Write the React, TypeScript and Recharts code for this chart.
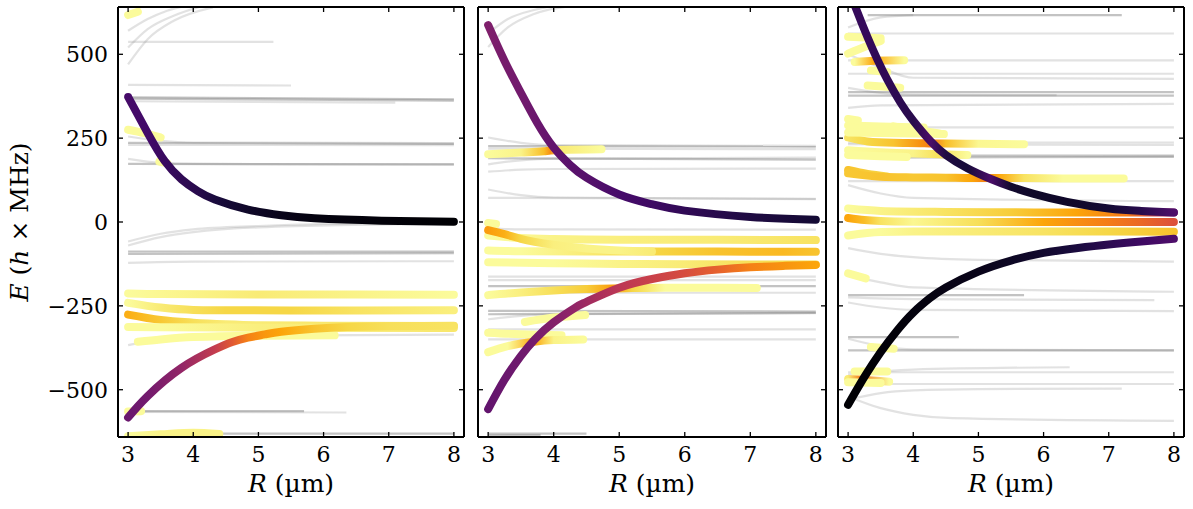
import React from 'react';
import { ComposedChart, Line, XAxis, YAxis } from 'recharts';

type GPt = [number, number]; // [R (µm), E (MHz)]
type CPt = [number, number, number]; // [R, E, colour value 0..1 (inferno)]

const R_TICKS = [3, 4, 5, 6, 7, 8];
const E_TICKS = [-500, -250, 0, 250, 500];
const R_DOMAIN: [number, number] = [2.845, 8.155];
const E_DOMAIN: [number, number] = [-641, 641];

// ---------------- Panel 1 ----------------
const p1Main: CPt[][] = [
  [[3, 373, 0.21], [3.31, 262, 0.2], [3.56, 182, 0.18], [3.82, 127, 0.16], [4.07, 92, 0.14], [4.33, 67, 0.11], [4.84, 37, 0.07], [5.35, 20, 0.04], [5.86, 11, 0.02], [6.89, 4, 0.01], [8, 1, 0]],
  [[3, -583, 0.3], [3.3, -519, 0.32], [3.82, -435, 0.4], [4.33, -380, 0.52], [4.6, -358, 0.62], [4.84, -345, 0.72], [5.1, -335, 0.77], [5.35, -327, 0.8], [5.86, -318, 0.86], [6.37, -313, 0.9], [7, -311, 0.92], [8, -309, 0.93]],
];
const p1Yellow: CPt[][] = [
  [[3, -213, 0.99], [3.5, -215, 0.98], [5, -216, 0.95], [6.5, -216, 0.97], [8, -217, 0.99]],
  [[3, -241, 0.99], [3.5, -255, 0.95], [4, -262, 0.92], [4.5, -263, 0.9], [5.5, -264, 0.9], [6.5, -264, 0.93], [8, -263, 0.96]],
  [[3, -276, 0.82], [3.5, -292, 0.87], [4, -300, 0.92], [4.5, -305, 0.95], [5, -308, 0.95], [6, -309, 0.94], [8, -310, 0.93]],
  [[3, -313, 0.99], [3.5, -314, 0.99], [5, -315, 0.96], [8, -316, 0.94]],
  [[3.15, -357, 0.99], [3.5, -350, 0.99], [4, -343, 0.99], [5, -339, 0.99], [6.17, -338, 0.99]],
  [[3, 617, 0.99], [3.15, 627, 0.99]],
  [[3, 275, 0.99], [3.25, 265, 0.99], [3.5, 252, 0.99]],
  [[3.48, 180, 0.99], [3.6, 175, 0.99]],
  [[3, -565, 0.99], [3.2, -564, 0.99]],
  [[3, -639, 0.99], [3.5, -633, 0.97], [4, -628, 0.97], [4.4, -632, 0.97]],
];
const p1GrayLight: GPt[][] = [
  [[3, 470], [3.3, 545], [3.7, 600], [4.3, 640]],
  [[3, 520], [3.3, 575], [3.7, 615], [4.1, 642]],
  [[3, 570], [3.3, 605], [3.6, 630], [3.9, 645]],
  [[3, 537], [5.23, 537]],
  [[3, 409], [5.5, 407]],
  [[3, 360], [7.1, 356]],
  [[3, 255], [3.5, 242], [4, 237], [8, 235]],
  [[3, 230], [8, 229]],
  [[3, 188], [3.5, 176], [4, 173], [8, 172]],
  [[3, -58], [3.5, -35], [4, -22], [5, -12], [6, -6], [8, -2]],
  [[3, -70], [3.5, -45], [4, -30], [5, -16], [8, -5]],
  [[3, -122], [4, -118], [8, -117]],
  [[3, -367], [3.5, -350], [4, -343], [5, -339], [8, -336]],
  [[3, -566], [6.35, -568]],
];
const p1GrayDark: GPt[][] = [
  [[3, 372], [8, 366]],
  [[3, 368], [8, 362]],
  [[3, 236], [8, 233]],
  [[3, 173], [8, 172]],
  [[3, -88], [8, -88]],
  [[3, -95], [8, -93]],
  [[3, -564], [5.7, -564]],
  [[3, -631], [8, -631]],
];

// ---------------- Panel 2 ----------------
const p2Main: CPt[][] = [
  [[3, 587, 0.35], [3.25, 480, 0.33], [3.5, 385, 0.32], [3.75, 295, 0.3], [4, 222, 0.28], [4.25, 170, 0.26], [4.5, 132, 0.25], [5, 82, 0.21], [5.5, 53, 0.19], [6, 34, 0.16], [7, 15, 0.12], [8, 7, 0.09]],
  [[3, -558, 0.28], [3.25, -470, 0.3], [3.5, -399, 0.31], [3.71, -350, 0.33], [4, -299, 0.36], [4.33, -255, 0.4], [4.5, -238, 0.43], [5, -196, 0.5], [5.5, -170, 0.54], [6, -153, 0.58], [6.5, -142, 0.64], [7, -135, 0.72], [7.5, -131, 0.76], [8, -128, 0.8]],
];
const p2Yellow: CPt[][] = [
  [[3, 202, 0.99], [3.5, 207, 0.97], [3.85, 211, 0.85], [3.95, 213, 0.75], [4.1, 215, 0.95], [4.73, 217, 0.99]],
  [[3, -3, 0.99], [3.12, -6, 0.99]],
  [[3, -40, 0.99], [3.5, -48, 0.98], [4, -51, 0.97], [5, -53, 0.96], [6.5, -53, 0.95], [8, -54, 0.93]],
  [[3, -85, 0.99], [3.5, -87, 0.99], [4.5, -88, 0.95], [5.5, -88, 0.9], [6.5, -88, 0.86], [7.5, -89, 0.84], [8, -89, 0.86]],
  [[3, -24, 0.78], [3.25, -36, 0.82], [3.5, -50, 0.9], [4, -68, 0.96], [4.5, -79, 0.97], [5, -85, 0.97], [5.5, -88, 0.95]],
  [[3, -120, 0.99], [4, -123, 0.99], [5, -125, 0.97], [6, -126, 0.95], [7, -127, 0.92], [8, -127, 0.9]],
  [[3, -218, 0.99], [3.5, -210, 0.96], [4, -204, 0.92], [4.5, -200, 0.88], [4.9, -198, 0.78], [5.2, -197, 0.9], [5.7, -196, 0.99], [6.5, -196, 0.99], [7.1, -197, 0.99]],
  [[3.56, -298, 0.99], [4, -285, 0.99], [4.48, -277, 0.99]],
  [[3, -330, 0.99], [3.5, -335, 0.99], [4.12, -338, 0.99]],
  [[3, -388, 0.99], [3.3, -370, 0.99], [3.7, -357, 0.8], [4, -352, 0.97], [4.45, -350, 0.99]],
];
const p2GrayLight: GPt[][] = [
  [[3, 522], [3.3, 580], [3.7, 620], [4.3, 645]],
  [[3, 562], [3.3, 605], [3.7, 632], [4.0, 645]],
  [[3, 252], [3.5, 236], [4, 229], [8, 227]],
  [[3, 219], [8, 217]],
  [[3, 172], [3.5, 184], [4, 189], [8, 192]],
  [[3, 150], [3.5, 156], [4, 158], [8, 159]],
  [[3, 97], [3.5, 80], [4, 73], [8, 68]],
  [[3, 72], [8, 69]],
  [[3, -18], [3.5, -22], [8, -23]],
  [[3, -163], [8, -163]],
  [[3, -173], [8, -173]],
  [[3, -211], [8, -211]],
  [[3, -290], [3.5, -280], [4, -275], [8, -272]],
  [[3, -320], [8, -320]],
  [[3, -350], [8, -350]],
];
const p2GrayDark: GPt[][] = [
  [[3, 226], [8, 225]],
  [[3, 190], [8, 186]],
  [[3, -191], [8, -191]],
  [[3, -265], [8, -267]],
  [[3, -275], [8, -271]],
  [[3, -631], [4.5, -631]],
  [[3, -636], [3.8, -635]],
];

// ---------------- Panel 3 ----------------
const p3Main: CPt[][] = [
  [[3, 700, 0.17], [3.12, 637, 0.17], [3.3, 550, 0.17], [3.45, 484, 0.16], [3.6, 425, 0.16], [3.8, 357, 0.15], [4, 302, 0.14], [4.27, 240, 0.22], [4.5, 200, 0.12], [4.83, 160, 0.1], [5.19, 128, 0.22], [5.5, 105, 0.08], [5.85, 84, 0.07], [6.36, 60, 0.07], [7, 40, 0.09], [7.5, 33, 0.14], [8, 28, 0.23]],
  [[3, -545, 0.0], [3.25, -462, 0.0], [3.5, -388, 0.01], [3.75, -324, 0.01], [4, -270, 0.02], [4.25, -228, 0.02], [4.5, -195, 0.03], [5, -148, 0.04], [5.5, -115, 0.06], [6, -92, 0.08], [6.5, -78, 0.11], [7, -67, 0.15], [7.5, -58, 0.19], [8, -50, 0.23]],
];
const p3Yellow: CPt[][] = [
  [[3, 40, 0.99], [3.5, 33, 0.97], [4.5, 30, 0.93], [5.5, 29, 0.88], [6.5, 28, 0.8], [7.3, 28, 0.7], [7.8, 28, 0.5], [8, 28, 0.35]],
  [[3, 12, 0.8], [3.25, 6, 0.85], [3.5, 3, 0.93], [4, 1, 0.98], [5, 0, 0.92], [6, 0, 0.8], [6.5, 0, 0.75], [7, 0, 0.71], [7.5, 0, 0.66], [8, 0, 0.6]],
  [[3, -40, 0.99], [3.5, -30, 0.99], [4, -28, 0.97], [5, -28, 0.95], [6, -28, 0.93], [7, -28, 0.9], [8, -29, 0.86]],
  [[3, 155, 0.86], [3.3, 143, 0.88], [3.6, 136, 0.9]],
  [[3, 145, 0.87], [3.5, 135, 0.86], [4, 133, 0.87], [4.5, 132, 0.86], [4.9, 131, 0.8], [5.1, 131, 0.72], [5.3, 131, 0.8], [5.7, 131, 0.93], [6.3, 130, 0.99], [7.23, 130, 0.99]],
  [[3, 252, 0.93], [3.3, 240, 0.9], [3.7, 236, 0.86], [4.1, 235, 0.76], [4.3, 234, 0.7], [4.5, 234, 0.85], [5, 233, 0.98], [5.7, 232, 0.99]],
  [[3, 214, 0.99], [3.5, 208, 0.98], [4, 204, 0.97], [4.4, 202, 0.92], [4.83, 200, 0.99]],
  [[3, 200, 0.99], [3.5, 196, 0.99], [3.9, 194, 0.99]],
  [[3, 288, 0.99], [3.5, 285, 0.99], [4.16, 282, 0.99]],
  [[3, 307, 0.99], [3.15, 303, 0.99]],
  [[3.7, 285, 0.99], [4, 275, 0.99], [4.4, 264, 0.99]],
  [[3, 267, 0.99], [3.5, 265, 0.99], [4.47, 262, 0.99]],
  [[3, 552, 0.99], [3.5, 548, 0.99]],
  [[3, 502, 0.99], [3.25, 522, 0.99], [3.5, 540, 0.99]],
  [[3.1, 477, 0.99], [3.4, 481, 0.8], [3.86, 482, 0.99]],
  [[3.35, 452, 0.99], [3.6, 447, 0.99]],
  [[3.3, 407, 0.99], [3.8, 400, 0.99]],
  [[3, -153, 0.99], [3.27, -168, 0.99]],
  [[3.35, -373, 0.99], [3.7, -378, 0.99]],
  [[3.1, -446, 0.99], [3.6, -446, 0.99]],
  [[3, -468, 0.95], [3.2, -470, 0.7], [3.63, -476, 0.99]],
  [[3, -478, 0.99], [3.5, -480, 0.99]],
];
const p3GrayLight: GPt[][] = [
  [[3, 580], [3.5, 610], [4, 617]],
  [[3, 562], [8, 562]],
  [[3, 482], [8, 482]],
  [[3, 442], [8, 442]],
  [[3, 500], [3.5, 460], [4, 430], [8, 427]],
  [[3, 400], [3.5, 385], [4, 380], [6.2, 378]],
  [[3, 340], [3.5, 348], [8, 352]],
  [[3, 282], [8, 282]],
  [[3, 237], [8, 237]],
  [[3, 232], [8, 230]],
  [[3, 122], [8, 122]],
  [[3, 110], [3.5, 85], [4, 72], [8, 62]],
  [[3, -78], [3.5, -95], [4, -105], [5, -113], [8, -118]],
  [[3, -160], [3.5, -180], [4, -195], [8, -208]],
  [[3, -225], [4, -230], [7.7, -233]],
  [[3, -240], [3.5, -255], [4, -262], [8, -266]],
  [[3, -348], [3.5, -370], [4, -380], [8, -383]],
  [[3, -455], [4, -440], [6.4, -433]],
  [[3, -448], [8, -448]],
  [[3, -483], [8, -483]],
  [[3, -530], [3.5, -510], [4, -502], [5, -498], [7.2, -497]],
  [[3, -520], [3.5, -555], [4, -575], [4.6, -585], [8, -593]],
];
const p3GrayDark: GPt[][] = [
  [[3.3, 617], [7.2, 617]],
  [[3, 387], [8, 387]],
  [[3, 377], [8, 377]],
  [[3, 198], [8, 198]],
  [[3, 192], [8, 194]],
  [[3, -218], [5.7, -218]],
  [[3, -343], [4.7, -343]],
  [[3, -383], [8, -383]],
];

// ---------------- styling helpers ----------------
const INFERNO = ['#000004', '#160b39', '#420a68', '#6a176e', '#932667', '#bc3754', '#dd513a', '#f37819', '#fca50a', '#f6d746', '#fcffa4'];
function hexToRgb(h: string): number[] {
  return [parseInt(h.slice(1, 3), 16), parseInt(h.slice(3, 5), 16), parseInt(h.slice(5, 7), 16)];
}
function inferno(t: number): string {
  const v = Math.max(0, Math.min(1, t)) * 10;
  const i = Math.min(9, Math.floor(v));
  const f = v - i;
  const a = hexToRgb(INFERNO[i]);
  const b = hexToRgb(INFERNO[i + 1]);
  const c = a.map((x, k) => Math.round(x + (b[k] - x) * f));
  return `rgb(${c[0]},${c[1]},${c[2]})`;
}

const FONT = "'DejaVu Serif', 'Liberation Serif', serif";
const TICK_FS = 22;
const LABEL_FS = 25;
const fmt = (v: number) => (v < 0 ? '\u2212' + Math.abs(v) : String(v));

const BottomTick = (props: any) => {
  const { x, y, payload } = props;
  return (
    <g>
      <line x1={x} x2={x} y1={y} y2={y - 5} stroke="#000" strokeWidth={1.3} />
      <text x={x} y={y + 25} textAnchor="middle" fontSize={TICK_FS} fontFamily={FONT} fill="#000">
        {payload.value}
      </text>
    </g>
  );
};
const TopTick = (props: any) => {
  const { x, y } = props;
  return <line x1={x} x2={x} y1={y} y2={y + 5} stroke="#000" strokeWidth={1.3} />;
};
const makeLeftTick = (showLabel: boolean) => (props: any) => {
  const { x, y, payload } = props;
  return (
    <g>
      <line x1={x} x2={x + 5} y1={y} y2={y} stroke="#000" strokeWidth={1.3} />
      {showLabel && (
        <text x={x - 10} y={y + 7.8} textAnchor="end" fontSize={TICK_FS} fontFamily={FONT} fill="#000">
          {fmt(payload.value)}
        </text>
      )}
    </g>
  );
};
const RightTick = (props: any) => {
  const { x, y } = props;
  return <line x1={x} x2={x - 5} y1={y} y2={y} stroke="#000" strokeWidth={1.3} />;
};

const XLabel = (props: any) => {
  const vb = props.viewBox || {};
  const cx = vb.x + vb.width / 2;
  return (
    <text x={cx} y={vb.y + 55} textAnchor="middle" fontSize={LABEL_FS} fontFamily={FONT} fill="#000">
      <tspan fontStyle="italic">R</tspan> (µm)
    </text>
  );
};
const YLabel = (props: any) => {
  const vb = props.viewBox || {};
  const x = vb.x + vb.width - 90;
  const y = vb.y + vb.height / 2;
  return (
    <text x={x} y={y} transform={`rotate(-90, ${x}, ${y})`} textAnchor="middle" fontSize={LABEL_FS} fontFamily={FONT} fill="#000">
      <tspan fontStyle="italic">E</tspan> (<tspan fontStyle="italic">h</tspan> × MHz)
    </text>
  );
};

const AXIS_LINE = { stroke: '#000', strokeWidth: 2 };

type PanelProps = {
  prefix: string;
  left: number;
  right: number;
  grayLight: GPt[][];
  grayDark: GPt[][];
  yellow: CPt[][];
  main: CPt[][];
  showY: boolean;
};

function Panel({ prefix, left, right, grayLight, grayDark, yellow, main, showY }: PanelProps) {
  const colored = [...yellow.map((p) => ({ pts: p, main: false })), ...main.map((p) => ({ pts: p, main: true }))];
  const gradInfo = colored.map(({ pts }) => {
    const cs = pts.map((p) => p[2]);
    const es = pts.map((p) => p[1]);
    const varying = cs.some((c) => Math.abs(c - cs[0]) > 1e-6);
    const flat = es.every((e) => e === es[0]);
    return { grad: varying && !flat, mean: cs.reduce((a, b) => a + b, 0) / cs.length };
  });
  const grayLine = (pts: GPt[], key: string, dark: boolean) => (
    <Line
      key={key}
      data={pts.map(([R, E]) => ({ R, E }))}
      dataKey="E"
      xAxisId="b"
      yAxisId="l"
      type="monotone"
      stroke={dark ? '#7a7a7a' : '#8a8a8a'}
      strokeOpacity={dark ? 0.45 : 0.25}
      strokeWidth={2.2}
      dot={false}
      activeDot={false}
      isAnimationActive={false}
    />
  );
  // axes are 1px thick boxes (zero-size axes are not drawn), so margins are reduced by 1
  return (
    <div style={{ position: 'absolute', left: 0, top: 0 }}>
      <ComposedChart width={1193} height={509} margin={{ top: 6, right: right - 1, bottom: 71, left: left - 1 }}>
        <defs>
          {colored.map(({ pts }, i) => {
            if (!gradInfo[i].grad) return null;
            const r0 = pts[0][0];
            const r1 = pts[pts.length - 1][0];
            return (
              <linearGradient key={i} id={`${prefix}-g${i}`} x1="0" y1="0" x2="1" y2="0">
                {pts.map(([R, , c], k) => (
                  <stop key={k} offset={(R - r0) / (r1 - r0)} stopColor={inferno(c)} />
                ))}
              </linearGradient>
            );
          })}
        </defs>
        {grayLight.map((pts, i) => grayLine(pts, `gl${i}`, false))}
        {grayDark.map((pts, i) => grayLine(pts, `gd${i}`, true))}
        {colored.map(({ pts, main: isMain }, i) => (
          <Line
            key={`c${i}`}
            data={pts.map(([R, E]) => ({ R, E }))}
            dataKey="E"
            xAxisId="b"
            yAxisId="l"
            type={isMain ? 'natural' : 'monotone'}
            stroke={gradInfo[i].grad ? `url(#${prefix}-g${i})` : inferno(gradInfo[i].mean)}
            strokeWidth={8}
            strokeLinecap="round"
            strokeLinejoin="round"
            dot={false}
            activeDot={false}
            isAnimationActive={false}
          />
        ))}
        <XAxis
          xAxisId="b"
          orientation="bottom"
          type="number"
          dataKey="R"
          domain={R_DOMAIN}
          ticks={R_TICKS}
          allowDataOverflow
          height={1}
          tickSize={0}
          tickMargin={0}
          interval={0}
          axisLine={AXIS_LINE}
          tickLine={false}
          tick={BottomTick}
          label={{ value: 'R (µm)', content: XLabel }}
        />
        <XAxis
          xAxisId="t"
          orientation="top"
          type="number"
          dataKey="R"
          domain={R_DOMAIN}
          ticks={R_TICKS}
          allowDataOverflow
          height={1}
          tickSize={0}
          tickMargin={0}
          interval={0}
          axisLine={AXIS_LINE}
          tickLine={false}
          tick={TopTick}
        />
        <YAxis
          yAxisId="l"
          orientation="left"
          type="number"
          domain={E_DOMAIN}
          ticks={E_TICKS}
          allowDataOverflow
          width={1}
          tickSize={0}
          tickMargin={0}
          interval={0}
          axisLine={AXIS_LINE}
          tickLine={false}
          tick={makeLeftTick(showY)}
          label={showY ? { value: 'E (h × MHz)', content: YLabel } : undefined}
        />
        <YAxis
          yAxisId="r"
          orientation="right"
          type="number"
          domain={E_DOMAIN}
          ticks={E_TICKS}
          allowDataOverflow
          width={1}
          tickSize={0}
          tickMargin={0}
          interval={0}
          axisLine={AXIS_LINE}
          tickLine={false}
          tick={RightTick}
        />
      </ComposedChart>
    </div>
  );
}

export default function App() {
  return (
    <div style={{ position: 'absolute', left: 0, top: 0, width: 1193, height: 509, background: '#fff' }}>
      <Panel prefix="p1" left={118} right={729} grayLight={p1GrayLight} grayDark={p1GrayDark} yellow={p1Yellow} main={p1Main} showY />
      <Panel prefix="p2" left={478} right={367} grayLight={p2GrayLight} grayDark={p2GrayDark} yellow={p2Yellow} main={p2Main} showY={false} />
      <Panel prefix="p3" left={838} right={9} grayLight={p3GrayLight} grayDark={p3GrayDark} yellow={p3Yellow} main={p3Main} showY={false} />
    </div>
  );
}
